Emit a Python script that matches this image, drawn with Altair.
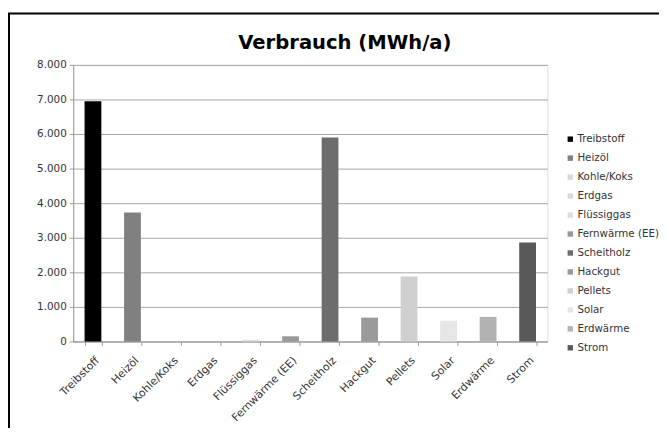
import altair as alt
import pandas as pd

categories = ["Treibstoff", "Heizöl", "Kohle/Koks", "Erdgas", "Flüssiggas",
              "Fernwärme (EE)", "Scheitholz", "Hackgut", "Pellets", "Solar",
              "Erdwärme", "Strom"]
values = [6950, 3730, 0, 0, 50, 150, 5900, 690, 1880, 600, 710, 2860]
colors = ["#000000", "#808080", "#d9d9d9", "#d9d9d9", "#dcdcdc", "#999999",
          "#6d6d6d", "#9a9a9a", "#d0d0d0", "#e6e6e6", "#b2b2b2", "#595959"]
y_ticks = [0, 1000, 2000, 3000, 4000, 5000, 6000, 7000, 8000]
title_text = "Verbrauch (MWh/a)"

df = pd.DataFrame({"Kategorie": categories, "Wert": values})

FONT = "DejaVu Sans"

frame = alt.Chart(pd.DataFrame({"f": [0]})).mark_rect(
    fill=None, stroke="#000000", strokeWidth=2
).encode(
    x=alt.value(-65), x2=alt.value(700),
    y=alt.value(-52), y2=alt.value(500)
)

title = alt.Chart(pd.DataFrame({"t": [title_text]})).mark_text(
    font=FONT, fontSize=19.8, fontWeight="bold", color="#000000",
    align="center", baseline="alphabetic"
).encode(
    x=alt.value(275), y=alt.value(-16), text="t:N"
)

bars = alt.Chart(df).mark_bar().encode(
    x=alt.X("Kategorie:N", sort=categories, title=None,
            scale=alt.Scale(paddingInner=0.575, paddingOuter=0.2875),
            axis=alt.Axis(labelAngle=-45, labelFontSize=11, labelColor="#333333",
                          labelFont=FONT, tickBand="extent", tickSize=4,
                          tickColor="#999999", domainColor="#999999",
                          labelPadding=9, grid=False)),
    y=alt.Y("Wert:Q", title=None,
            scale=alt.Scale(domain=[0, 8000], nice=False),
            axis=alt.Axis(values=y_ticks, labelFontSize=10.5, labelColor="#333333",
                          labelFont=FONT, tickSize=4, tickColor="#999999",
                          domainColor="#999999", gridColor="#a6a6a6",
                          labelPadding=3,
                          labelExpr="replace(format(datum.value, ','), ',', '.')")),
    color=alt.Color("Kategorie:N", sort=categories,
                    scale=alt.Scale(domain=categories, range=colors),
                    legend=alt.Legend(title=None, orient="none", legendX=498, legendY=70,
                                      symbolType="square", symbolSize=30,
                                      symbolStrokeWidth=0, labelFontSize=10.4,
                                      labelFont=FONT, labelColor="#333333",
                                      rowPadding=8.2, labelOffset=2))
)

chart = alt.layer(frame, title, bars).properties(
    width=480, height=280,
    autosize=alt.AutoSizeParams(type="none"),
    padding={"left": 66, "top": 55, "right": 113, "bottom": 85}
).configure_view(stroke=None).configure(background="#ffffff")

chart.save("out.html", embed_options={"renderer": "svg", "actions": False})
